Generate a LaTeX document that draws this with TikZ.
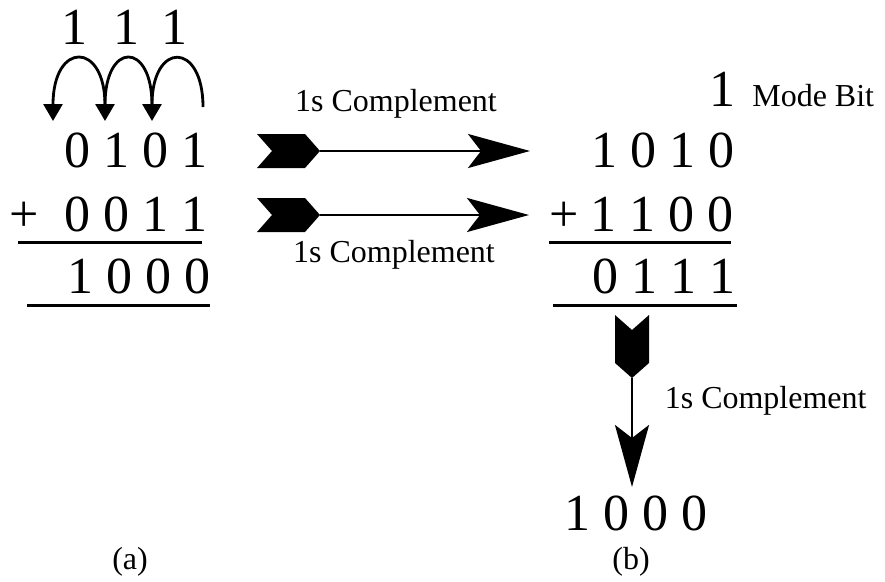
\documentclass[tikz,border=0pt]{standalone}
\usepackage{fontspec}
\setmainfont{Liberation Serif}
\usepackage{tikz}
\usetikzlibrary{arrows.meta}
\tikzset{
  num/.style={font=\fontsize{29.6}{36}\selectfont, inner sep=0pt},
  lbl/.style={font=\fontsize{18.2}{22}\selectfont, inner sep=0pt},
  rule/.style={draw, line width=1.5pt},
  carry/.style={draw, line width=1.6pt, -{Triangle[length=0.34cm,width=0.38cm]}},
  bigarrow/.style={draw, line width=1.5pt, -{Stealth[length=1.24cm,width=0.68cm,inset=0.26cm]}},
  fletch/.pic={\fill (0,0) -- (-0.3,0.34) -- (-1.26,0.34) -- (-0.96,0) -- (-1.26,-0.34) -- (-0.3,-0.34) -- cycle;}
}

\begin{document}
\begin{tikzpicture}
  \useasboundingbox (0,0) rectangle (17.7,11.62);

  % binary sum
  \foreach \x/\n in {1.50/1,2.54/2,3.50/3}
    \node[num, anchor=base] (c\n) at (\x,10.74) {1};
  \node[num, anchor=base east] (a1) at (4.15,8.28) {0 1 0 1};
  \node[num, anchor=base] (pa) at (0.49,7.00) {+};
  \node[num, anchor=base east] (a2) at (4.15,7.00) {0 0 1 1};
  \node[num, anchor=base east] (a3) at (4.22,5.76) {1 0 0 0};
  \draw[rule] (0.36,6.77) -- (4.04,6.77);
  \draw[rule] (0.54,5.51) -- (4.20,5.51);

  % carries
  \coordinate (k0) at (4.06,9.48);
  \coordinate (k1) at (3.04,9.20);
  \coordinate (k2) at (2.10,9.20);
  \coordinate (k3) at (1.06,9.20);
  \draw[carry] (k0) .. controls (4.06,10.80) and (3.04,10.80) .. (k1);
  \draw[carry] ([yshift=0.32cm]k1) .. controls (3.04,10.80) and (2.10,10.80) .. (k2);
  \draw[carry] ([yshift=0.32cm]k2) .. controls (2.10,10.80) and (1.06,10.80) .. (k3);

  % complemented sum
  \node[num, anchor=base] (m) at (14.44,9.50) {1};
  \node[lbl, anchor=base west] (mtxt) at (15.04,9.50) {Mode Bit};
  \node[num, anchor=base east] (b1) at (14.70,8.28) {1 0 1 0};
  \node[num, anchor=base] (pb) at (11.28,7.00) {+};
  \node[num, anchor=base east] (b2) at (14.68,7.00) {1 1 0 0};
  \node[num, anchor=base east] (b3) at (14.71,5.76) {0 1 1 1};
  \draw[rule] (10.98,6.77) -- (14.62,6.77);
  \draw[rule] (11.06,5.51) -- (14.74,5.51);
  \node[num, anchor=base east] (b4) at (14.16,1.02) {1 0 0 0};

  % complement arrows
  \coordinate (t1) at (6.40,8.60);
  \coordinate (h1) at (10.60,8.60);
  \coordinate (t2) at (6.40,7.32);
  \coordinate (h2) at (10.58,7.32);
  \coordinate (t3) at (12.64,4.06);
  \coordinate (h3) at (12.64,1.88);
  \pic at (t1) {fletch};
  \pic at (t2) {fletch};
  \pic[rotate=-90] at (t3) {fletch};
  \draw[bigarrow] (t1) -- (h1);
  \draw[bigarrow] (t2) -- (h2);
  \draw[bigarrow] (t3) -- (h3);

  \node[lbl, anchor=base] (l1) at (7.92,9.40) {1s Complement};
  \node[lbl, anchor=base] (l2) at (7.88,6.38) {1s Complement};
  \node[lbl, anchor=base west] (l3) at (13.29,3.46) {1s Complement};

  \node[lbl, anchor=base] (capa) at (2.60,0.24) {(a)};
  \node[lbl, anchor=base] (capb) at (12.62,0.24) {(b)};
\end{tikzpicture}
\end{document}
